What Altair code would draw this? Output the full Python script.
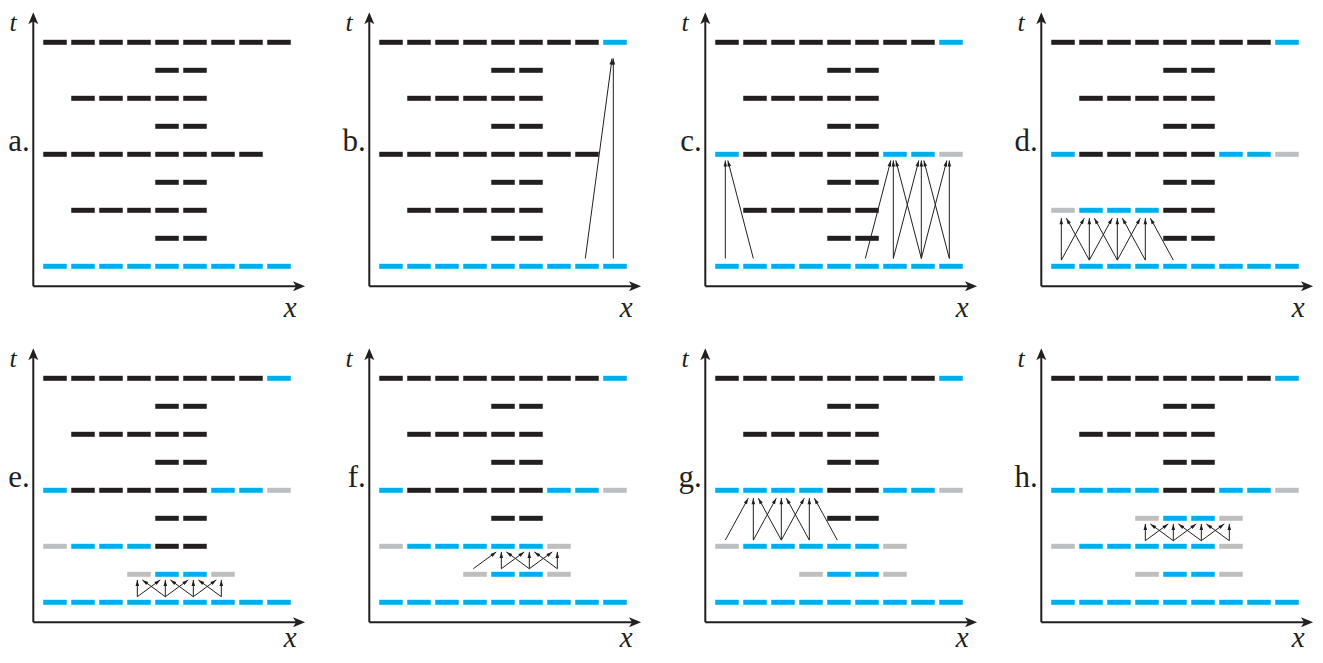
import math
import altair as alt
import pandas as pd

# ---------------- data ----------------
PANELS = ["a", "b", "c", "d", "e", "f", "g", "h"]
PANEL_LABELS = ["a.", "b.", "c.", "d.", "e.", "f.", "g.", "h."]

# rows listed from t=8 (top) down to t=0 (bottom); k=black, b=blue, g=gray, .=empty
GRID_A = ["kkkkkkkkk", "....kk...", ".kkkkk...", "....kk...", "kkkkkkkk.",
          "....kk...", ".kkkkk...", "....kk...", "bbbbbbbbb"]
GRID_B = ["kkkkkkkkb", "....kk...", ".kkkkk...", "....kk...", "kkkkkkkk.",
          "....kk...", ".kkkkk...", "....kk...", "bbbbbbbbb"]
GRID_C = ["kkkkkkkkb", "....kk...", ".kkkkk...", "....kk...", "bkkkkkbbg",
          "....kk...", ".kkkkk...", "....kk...", "bbbbbbbbb"]
GRID_D = ["kkkkkkkkb", "....kk...", ".kkkkk...", "....kk...", "bkkkkkbbg",
          "....kk...", "gbbbkk...", "....kk...", "bbbbbbbbb"]
GRID_E = ["kkkkkkkkb", "....kk...", ".kkkkk...", "....kk...", "bkkkkkbbg",
          "....kk...", "gbbbkk...", "...gbbg..", "bbbbbbbbb"]
GRID_F = ["kkkkkkkkb", "....kk...", ".kkkkk...", "....kk...", "bkkkkkbbg",
          "....kk...", "gbbbbbg..", "...gbbg..", "bbbbbbbbb"]
GRID_G = ["kkkkkkkkb", "....kk...", ".kkkkk...", "....kk...", "bbbbkkbbg",
          "....kk...", "gbbbbbg..", "...gbbg..", "bbbbbbbbb"]
GRID_H = ["kkkkkkkkb", "....kk...", ".kkkkk...", "....kk...", "bbbbkkbbg",
          "...gbbg..", "gbbbbbg..", "...gbbg..", "bbbbbbbbb"]
GRIDS = [GRID_A, GRID_B, GRID_C, GRID_D, GRID_E, GRID_F, GRID_G, GRID_H]

# arrows: (source col, source t, target col, target t)
ARROWS_B = [(7, 0, 8, 8), (8, 0, 8, 8)]
ARROWS_C = [(0, 0, 0, 4), (1, 0, 0, 4),
            (5, 0, 6, 4), (6, 0, 6, 4), (7, 0, 6, 4),
            (6, 0, 7, 4), (7, 0, 7, 4), (8, 0, 7, 4),
            (7, 0, 8, 4), (8, 0, 8, 4)]
ARROWS_D = [(0, 0, 0, 2), (1, 0, 0, 2),
            (0, 0, 1, 2), (1, 0, 1, 2), (2, 0, 1, 2),
            (1, 0, 2, 2), (2, 0, 2, 2), (3, 0, 2, 2),
            (2, 0, 3, 2), (3, 0, 3, 2), (4, 0, 3, 2)]
ARROWS_E = [(3, 0, 3, 1), (4, 0, 3, 1),
            (3, 0, 4, 1), (4, 0, 4, 1), (5, 0, 4, 1),
            (4, 0, 5, 1), (5, 0, 5, 1), (6, 0, 5, 1),
            (5, 0, 6, 1), (6, 0, 6, 1)]
ARROWS_F = [(3, 1, 4, 2), (4, 1, 4, 2), (5, 1, 4, 2),
            (4, 1, 5, 2), (5, 1, 5, 2), (6, 1, 5, 2),
            (5, 1, 6, 2), (6, 1, 6, 2)]
ARROWS_G = [(0, 2, 1, 4), (1, 2, 1, 4), (2, 2, 1, 4),
            (1, 2, 2, 4), (2, 2, 2, 4), (3, 2, 2, 4),
            (2, 2, 3, 4), (3, 2, 3, 4), (4, 2, 3, 4)]
ARROWS_H = [(3, 2, 3, 3), (4, 2, 3, 3),
            (3, 2, 4, 3), (4, 2, 4, 3), (5, 2, 4, 3),
            (4, 2, 5, 3), (5, 2, 5, 3), (6, 2, 5, 3),
            (5, 2, 6, 3), (6, 2, 6, 3)]
ARROWS = [[], ARROWS_B, ARROWS_C, ARROWS_D, ARROWS_E, ARROWS_F, ARROWS_G, ARROWS_H]

COLORS = {"k": "#231f20", "b": "#00aeef", "g": "#bcbec0"}
SERIF = "'Liberation Serif', 'Times New Roman', 'DejaVu Serif', serif"

# ---------------- layout (grid units, 1 unit = one dash pitch) ----------------
W, H = 1307, 645
UNIT = 28.0
U0 = 47.0 / UNIT             # first column centre of panel a
V0 = (653.0 - 266.3) / UNIT  # bottom row of panel a
PITCH = 12                   # panel pitch in units


def origin(i):
    p, q = i % 4, i // 4
    return U0 + PITCH * p, V0 - PITCH * q


dash_rows, axis_rows, head_rows, arrow_rows, label_rows = [], [], [], [], []
for i, grid in enumerate(GRIDS):
    ou, ov = origin(i)
    for k, row in enumerate(grid):
        t = 8 - k
        for c, ch in enumerate(row):
            if ch != ".":
                dash_rows.append({"x": ou + c - 0.42, "x2": ou + c + 0.42,
                                  "y": ov + t, "s": ch})
    # axes
    ax_u, ax_v = ou - 0.775, ov - 0.71
    axis_rows.append({"x": ax_u, "y": ax_v, "x2": ax_u, "y2": ov + 8.9})
    axis_rows.append({"x": ax_u, "y": ax_v, "x2": ou + 8.75, "y2": ax_v})
    head_rows.append({"x": ax_u, "y": ov + 9.07, "ang": 0})
    head_rows.append({"x": ou + 8.93, "y": ax_v, "ang": 90})
    label_rows.append({"x": ou - 0.9, "y": ov + 4.12, "txt": PANEL_LABELS[i], "kind": "panel"})
    label_rows.append({"x": ou - 1.5, "y": ov + 8.42, "txt": "t", "kind": "top"})
    x_lab_off = -1.81 if i < 4 else -1.6
    label_rows.append({"x": ou + 8.4, "y": ov + x_lab_off, "txt": "x", "kind": "var"})
    # arrows
    for (sc, sr, tc, tr) in ARROWS[i]:
        drow = tr - sr
        d = tc - sc
        sy_off = {1: 0.2, 2: 0.22, 4: 0.28, 8: 0.28}[drow]
        ty_off = {1: 0.2, 2: 0.28, 4: 0.22, 8: 0.58}[drow]
        shift = -0.06
        x1 = ou + sc + shift
        y1 = ov + sr + sy_off
        x2 = ou + tc + shift - 0.18 * d * min(1.0, 2.0 / drow)
        y2 = ov + tr - ty_off
        ang = math.degrees(math.atan2(x2 - x1, y2 - y1)) % 360
        arrow_rows.append({"x": x1, "y": y1, "x2": x2, "y2": y2, "ang": ang})

dashes = pd.DataFrame(dash_rows)
axes_df = pd.DataFrame(axis_rows)
heads_df = pd.DataFrame(head_rows)
arrows_df = pd.DataFrame(arrow_rows)
labels_df = pd.DataFrame(label_rows)

xs = alt.Scale(domain=[0, W / UNIT], nice=False, zero=False)
ys = alt.Scale(domain=[0, H / UNIT], nice=False, zero=False)
X = lambda f="x": alt.X(f"{f}:Q", scale=xs, axis=None)
Y = lambda f="y": alt.Y(f"{f}:Q", scale=ys, axis=None)

dash_layer = alt.Chart(dashes).mark_rule(strokeWidth=5, strokeCap="butt").encode(
    x=X(), x2="x2:Q", y=Y(),
    color=alt.Color("s:N", scale=alt.Scale(domain=list(COLORS.keys()),
                                            range=list(COLORS.values())), legend=None),
)

axis_layer = alt.Chart(axes_df).mark_rule(strokeWidth=2, color="#231f20").encode(
    x=X(), x2="x2:Q", y=Y(), y2="y2:Q")

axis_heads = alt.Chart(heads_df).mark_point(
    shape="M0,0L0.5,1.2L0,0.9L-0.5,1.2Z", filled=True, size=400, opacity=1,
    color="#231f20", strokeWidth=0).encode(
    x=X(), y=Y(), angle=alt.Angle("ang:Q", scale=None))

arrow_lines = alt.Chart(arrows_df).mark_rule(strokeWidth=1, color="#231f20").encode(
    x=X(), x2="x2:Q", y=Y(), y2="y2:Q")

arrow_heads = alt.Chart(arrows_df).mark_point(
    shape="M0,0L0.6,2L-0.6,2Z", filled=True, size=36, opacity=1,
    color="#231f20", strokeWidth=0).encode(
    x=X("x2"), y=Y("y2"), angle=alt.Angle("ang:Q", scale=None))

panel_text = alt.Chart(labels_df).transform_filter(alt.datum.kind == "panel").mark_text(
    font=SERIF, fontSize=31, align="right", baseline="alphabetic",
    color="#231f20").encode(x=X(), y=Y(), text="txt:N")

var_text = alt.Chart(labels_df).transform_filter(alt.datum.kind == "var").mark_text(
    font=SERIF, fontSize=29, fontStyle="italic", align="center",
    baseline="alphabetic", color="#231f20").encode(x=X(), y=Y(), text="txt:N")

top_text = alt.Chart(labels_df).transform_filter(alt.datum.kind == "top").mark_text(
    font=SERIF, fontSize=26, fontStyle="italic", align="center",
    baseline="alphabetic", color="#231f20").encode(x=X(), y=Y(), text="txt:N")

chart = alt.layer(dash_layer, axis_layer, axis_heads, arrow_lines, arrow_heads,
                  panel_text, var_text, top_text).properties(
    width=W, height=H, padding=0, autosize="none"
).configure_view(stroke=None)

chart.save("out.html", embed_options={"renderer": "svg", "actions": False})
